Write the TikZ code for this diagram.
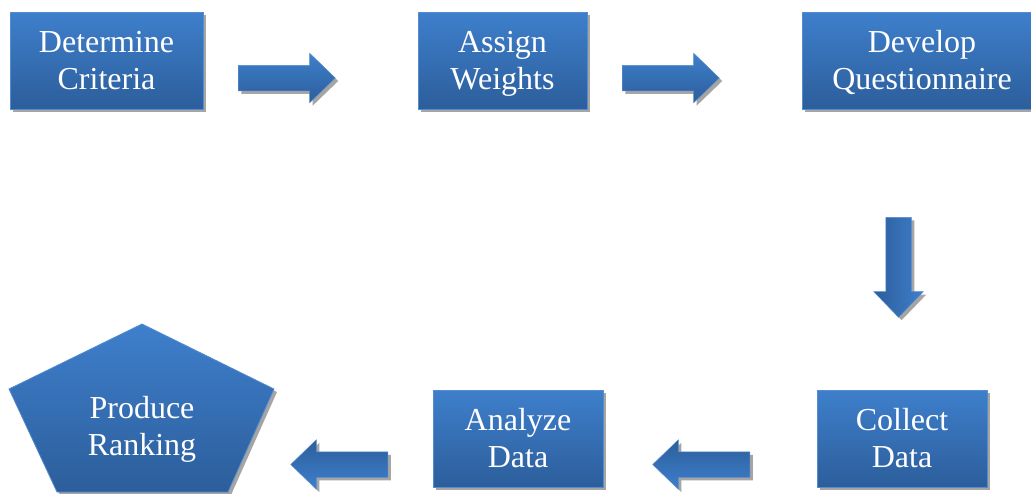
\documentclass[tikz,border=0pt]{standalone}
\usepackage{fontspec}
\setmainfont{Liberation Serif}
\usetikzlibrary{shapes.arrows,shadows}
\definecolor{btop}{RGB}{62,127,204}
\definecolor{bbot}{RGB}{44,94,155}
\definecolor{bline}{RGB}{86,140,205}
\definecolor{shd}{RGB}{165,165,165}
\newcommand\twolines[2]{\rule{0pt}{27pt}#1\\#2\rule[-7pt]{0pt}{7pt}}
\tikzset{
  shadowed/.style={drop shadow={shadow xshift=3pt, shadow yshift=-3pt, fill=shd, opacity=1}},
  boxtext/.style={text=white, align=center, inner sep=0pt, font=\fontsize{32}{37}\selectfont},
  procbox/.style={rectangle, draw=bline, line width=0.8pt, top color=btop, bottom color=bbot,
    minimum width=#1, minimum height=97pt, boxtext, shadowed},
  blockarrow/.style={single arrow, draw=bline, line width=0.5pt, minimum height=#1,
    inner sep=12.5pt, single arrow head extend=12pt, single arrow tip angle=88,
    anchor=tail, shadowed},
  rightarrow/.style={blockarrow=97pt, top color=btop, bottom color=bbot},
  leftarrow/.style={blockarrow=97pt, shape border rotate=180, top color=bbot, bottom color=btop},
  downarrow/.style={blockarrow=100pt, shape border rotate=270, left color=bbot, right color=btop},
}
\begin{document}
\begin{tikzpicture}[x=1pt,y=-1pt]
\useasboundingbox (0,0) rectangle (1031,493);
\clip (0,0) rectangle (1031,493);
\node[procbox=193pt] (crit) at (106.5,60.5) {\twolines{Determine}{Criteria}};
\node[procbox=169pt] (wts) at (502.5,60.5) {\twolines{Assign}{Weights}};
\node[procbox=240pt] (quest) at (922,60.5) {\twolines{Develop}{Questionnaire}};
\node[procbox=170pt] (coll) at (902,438.5) {\twolines{Collect}{Data}};
\node[procbox=170pt] (anal) at (518,438.5) {\twolines{Analyze}{Data}};
\path[draw=bline, line width=0.8pt, top color=btop, bottom color=bbot, shadowed]
  (142,324) -- (274,389) -- (228,492) -- (57,492) -- (9,389) -- cycle;
\node[boxtext] (rank) at (142,426.5) {\twolines{Produce}{Ranking}};
\node[rightarrow] (a1) at (238,78) {};
\node[rightarrow] (a2) at (622,78) {};
\node[downarrow] (a3) at (898.5,217) {};
\node[leftarrow] (a4) at (750,464.5) {};
\node[leftarrow] (a5) at (388,464.5) {};
\end{tikzpicture}
\end{document}
